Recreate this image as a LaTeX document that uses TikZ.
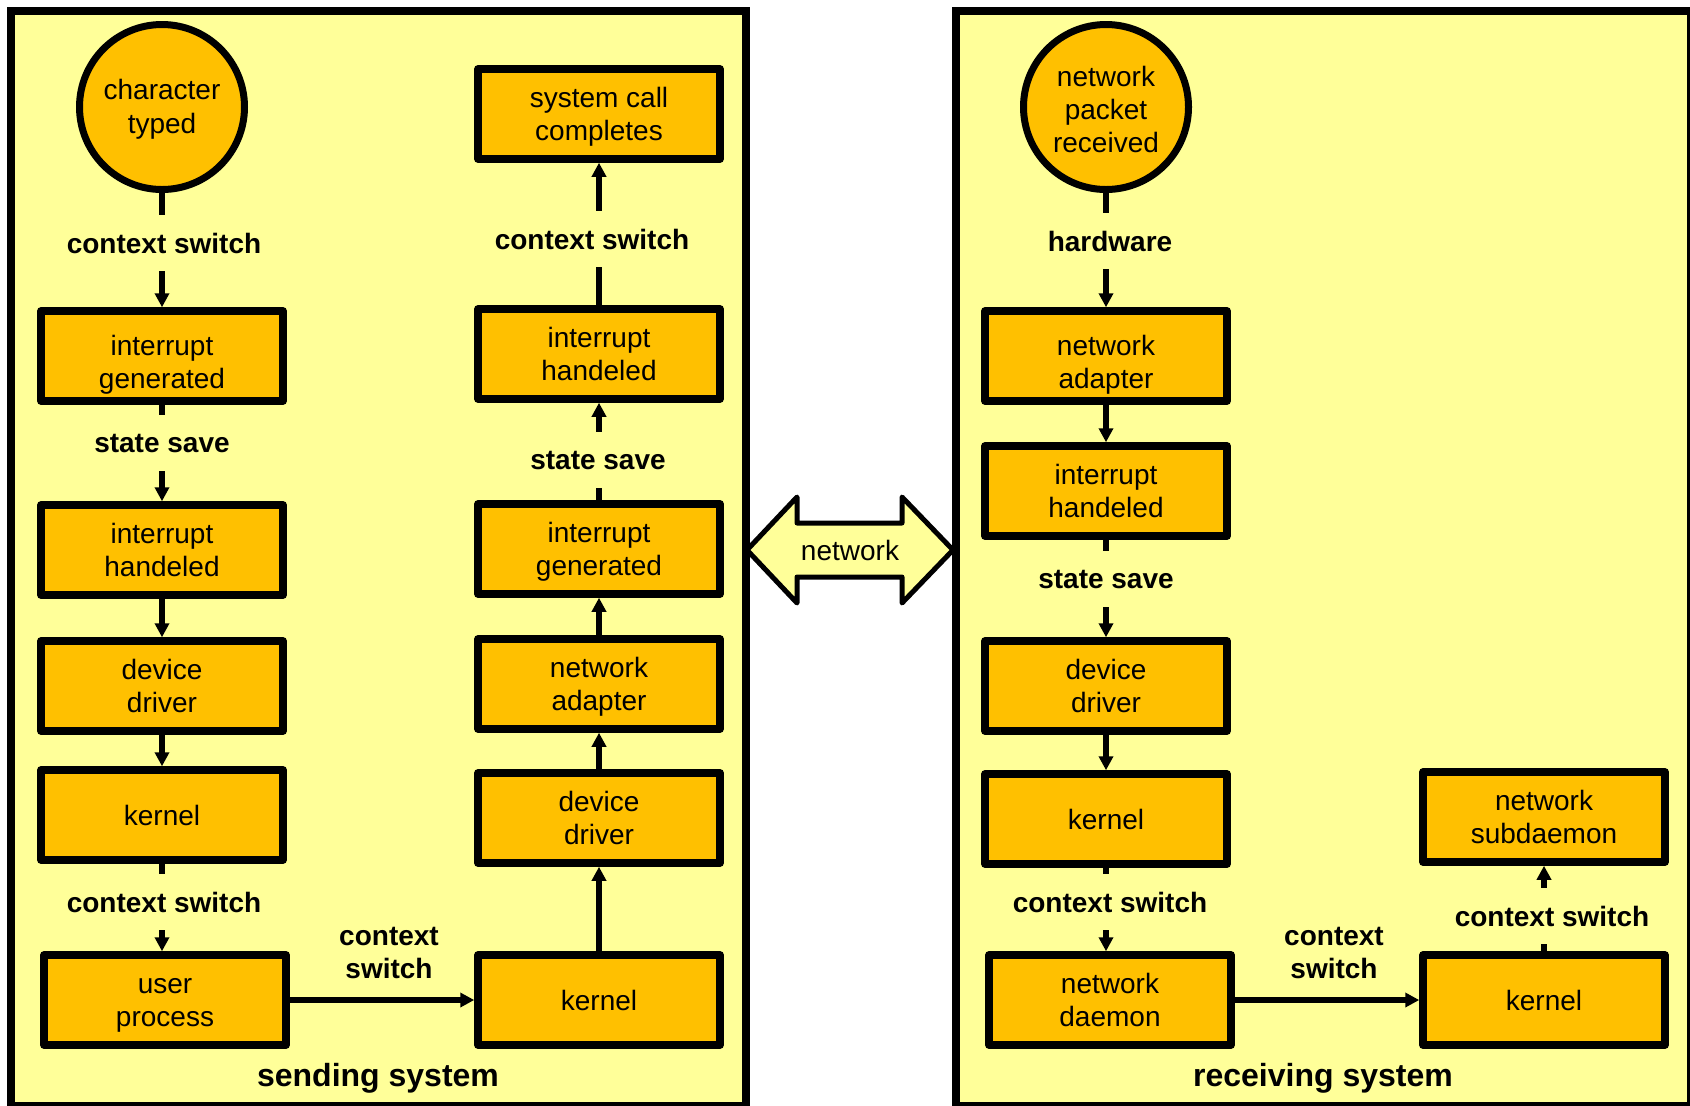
\documentclass[tikz,border=0pt]{standalone}
\usepackage{fontspec}
\setmainfont{Liberation Sans}
\usetikzlibrary{arrows.meta}
\definecolor{paleyellow}{HTML}{FFFF99}
\definecolor{gold}{HTML}{FFC000}
\begin{document}
\begin{tikzpicture}[x=0.5pt,y=-0.5pt,
	font=\fontsize{14}{16.7}\selectfont,
	panel/.style={draw,line width=4pt,fill=paleyellow},
	box/.style={draw,line width=3.75pt,line join=round,fill=gold,
		minimum width=121pt,minimum height=45pt,align=center,inner sep=0pt},
	lines2/.style={text height=31.5pt,text depth=5pt},
	lines2low/.style={text height=37.6pt,text depth=5pt},
	event/.style={circle,draw,line width=3.5pt,fill=gold,
		minimum size=82.5pt,align=center,inner sep=0pt,text depth=5pt},
	lbl/.style={fill=paleyellow,font=\fontsize{14}{16.7}\selectfont\bfseries,
		minimum height=28pt,inner xsep=2pt,inner ysep=0pt,align=center},
	systitle/.style={font=\fontsize{16}{19}\selectfont\bfseries},
	arr/.style={line width=2.75pt,-{Triangle[width=7pt,length=7pt]}}]
\useasboundingbox (0,0) rectangle (1690,1105);
% the two systems
\draw[panel] (11,11) rectangle (746,1106);
\draw[panel] (956,11) rectangle (1691,1106);
% network between them
\draw[line width=2.5pt,line join=round,fill=paleyellow]
	(747,550) -- (797,497) -- (797,523) -- (902,523) -- (902,497) -- (953,550)
	-- (902,603) -- (902,577) -- (797,577) -- (797,603) -- cycle;
\node (net) at (850,550) {network};
% sending system
\node[event,text height=31pt] (chr) at (162,107) {character\\typed};
\node[box,lines2low] (ig1) at (162,356) {interrupt\\generated};
\node[box,lines2] (ih1) at (162,550) {interrupt\\handeled};
\node[box,lines2] (dd1) at (162,686) {device\\driver};
\node[box] (kn1) at (162,815) {kernel};
\node[box,lines2] (up) at (165,1000) {user\\process};
\node[box] (kn2) at (599,1000) {kernel};
\node[box,lines2] (dd2) at (599,818) {device\\driver};
\node[box,lines2] (na1) at (599,684) {network\\adapter};
\node[box,lines2] (ig2) at (599,549) {interrupt\\generated};
\node[box,lines2] (ih2) at (599,354) {interrupt\\handeled};
\node[box,lines2] (scc) at (599,114) {system call\\completes};
% receiving system
\node[event,text height=50.8pt] (pkt) at (1106,107) {network\\packet\\received};
\node[box,lines2low] (na2) at (1106,356) {network\\adapter};
\node[box,lines2] (ih3) at (1106,491) {interrupt\\handeled};
\node[box,lines2] (dd3) at (1106,686) {device\\driver};
\node[box] (kn3) at (1106,819) {kernel};
\node[box,lines2] (nd) at (1110,1000) {network\\daemon};
\node[box] (kn4) at (1544,1000) {kernel};
\node[box,lines2] (nsd) at (1544,817) {network\\subdaemon};
% connectors
\foreach \a/\b in {chr/ig1,ig1/ih1,ih1/dd1,dd1/kn1,up/kn2,kn2/dd2,dd2/na1,
	na1/ig2,ig2/ih2,ih2/scc,pkt/na2,na2/ih3,ih3/dd3,dd3/kn3,nd/kn4,kn4/nsd}
	\draw[arr] (\a) -- (\b);
\draw[arr] (kn1) -- (kn1 |- up.north);
\draw[arr] (kn3) -- (kn3 |- nd.north);
% labels on the connectors
\node[lbl] (cs1) at (164,243) {context switch};
\node[lbl] (ss1) at (162,443) {state save};
\node[lbl] (cs2) at (164,902) {context switch};
\node[lbl] (cs3) at (389,953) {context\\switch};
\node[lbl] (cs4) at (592,239) {context switch};
\node[lbl] (ss2) at (598,460) {state save};
\node[lbl] (hw) at (1110,241) {hardware};
\node[lbl] (ss3) at (1106,579) {state save};
\node[lbl] (cs5) at (1110,902) {context switch};
\node[lbl] (cs6) at (1334,953) {context\\switch};
\node[lbl] (cs7) at (1552,916) {context switch};
\node[systitle] (snd) at (378,1078) {sending system};
\node[systitle] (rcv) at (1323,1078) {receiving system};
\end{tikzpicture}
\end{document}
